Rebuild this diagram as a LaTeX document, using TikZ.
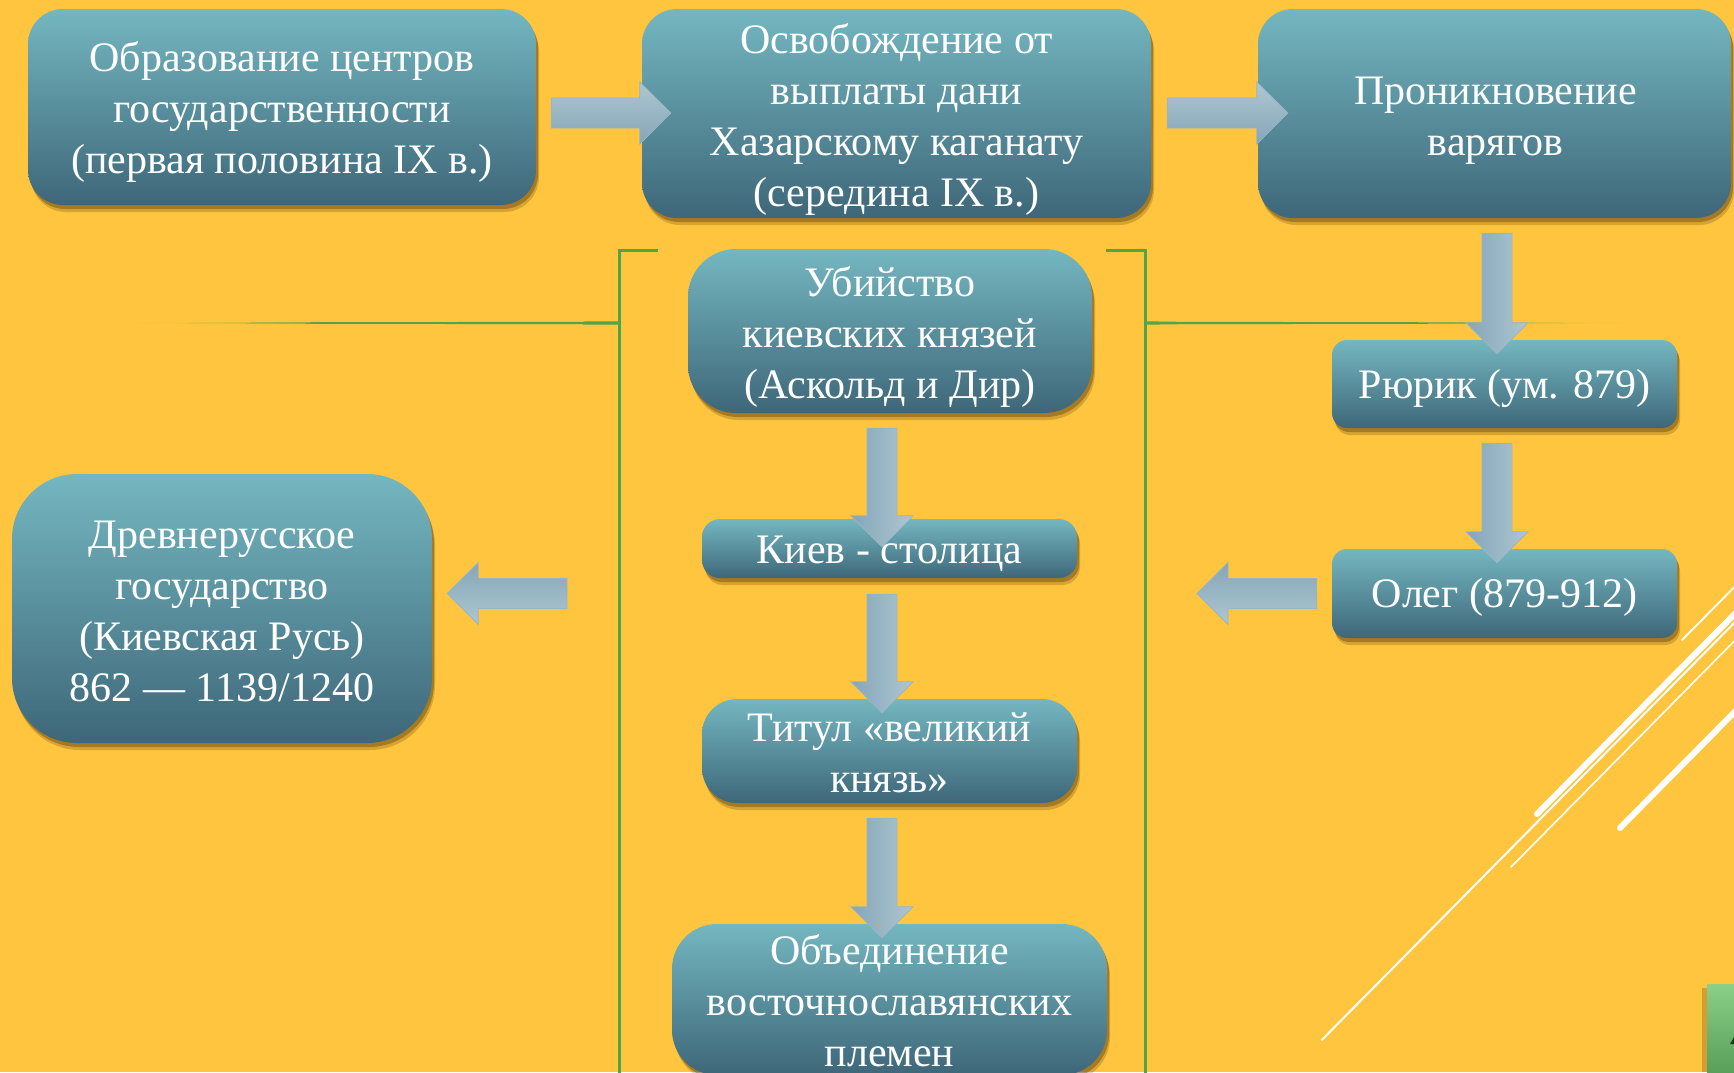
\documentclass[tikz,border=0pt]{standalone}
\usepackage{fontspec}
\setmainfont{Liberation Serif}
\usetikzlibrary{shadows,calc}
\definecolor{bgc}{RGB}{255,197,62}
\definecolor{boxtop}{RGB}{116,183,192}
\definecolor{boxbot}{RGB}{62,103,121}
\definecolor{arrdark}{RGB}{133,165,184}
\definecolor{arrlight}{RGB}{174,199,209}
\definecolor{arredge}{RGB}{150,182,196}
\definecolor{gline}{RGB}{78,166,74}
\definecolor{shadowc}{RGB}{80,50,5}
\definecolor{gboxtop}{RGB}{138,208,136}
\definecolor{gboxbot}{RGB}{86,154,86}
\tikzset{
  box/.style={draw=none, top color=boxtop, bottom color=boxbot, inner sep=0pt,
    drop shadow={shadow xshift=2pt, shadow yshift=-4pt, opacity=.36, fill=shadowc},
    drop shadow={shadow xshift=3pt, shadow yshift=-7pt, opacity=.22, fill=shadowc}},
  lbl/.style={text=white, align=center, font=\fontsize{42}{51}\selectfont, inner sep=0pt},
  bracket/.style={draw=gline, line width=3pt},
  wthick/.style={draw=white, line width=6pt, line cap=round},
  wthin/.style={draw=white, line width=2pt, line cap=round},
  arrR/.style={top color=arrlight, bottom color=arrdark, draw=arredge, line width=0.8pt},
  arrL/.style={top color=arrdark, bottom color=arrlight, draw=arredge, line width=0.8pt},
  arrD/.style={left color=arrdark, right color=arrlight, draw=arredge, line width=0.8pt},
}
\newcommand\blockarrow[3]{%
  \coordinate (baT) at #2;
  \coordinate (baB) at #3;
  \coordinate (baH) at ($(baB)!31pt!(baT)$);
  \draw[#1] ($(baT)!15pt!90:(baB)$) -- ($(baH)!15pt!-90:(baT)$) -- ($(baH)!31pt!-90:(baT)$)
    -- (baB) -- ($(baH)!31pt!90:(baT)$) -- ($(baH)!15pt!90:(baT)$) -- ($(baT)!15pt!-90:(baB)$) -- cycle;
}
\begin{document}
\begin{tikzpicture}[x=1pt,y=-1pt]
\useasboundingbox (0,0) rectangle (1734,1072);
\clip (0,0) rectangle (1734,1072);
\fill[bgc] (0,0) rectangle (1734,1072);

% decorative white lines
\draw[wthin] (1321.7,1040) -- ++(450,-455);
\draw[wthick] (1537,814) -- ++(250,-253);
\draw[wthin, line width=1.6pt] (1511,867) -- ++(250,-253);
\draw[wthick] (1620,828) -- ++(150,-152);
\draw[wthin, line width=1.8pt] (1682,640) -- ++(80,-81);

% green corner box
\fill[shadowc, opacity=.25] (1702,988) rectangle (1707,1072);
\shade[top color=gboxtop, bottom color=gboxbot] (1707,984) rectangle (1740,1080);
\fill[black!60!gboxbot] (1730,1044) -- (1734,1037) -- (1734,1044) -- cycle;

% green bracket and guide lines
\draw[bracket] (658,250) -- (619,250) -- (619,1080);
\draw[bracket] (1106,250) -- (1145,250) -- (1145,1080);
\shade[left color=bgc, right color=gline] (129,323) -- (320,322.2) -- (320,323.8) -- cycle;
\fill[gline] (320,322.2) -- (583,321.8) -- (583,321.5) -- (619,321.3) -- (619,324.7) -- (583,324.5) -- (583,324.2) -- (320,323.8) -- cycle;
\fill[gline] (1145,321.3) -- (1180,321.8) -- (1450,322.3) -- (1450,323.7) -- (1180,324.2) -- (1145,324.7) -- cycle;
\shade[left color=gline, right color=bgc] (1450,322.3) -- (1630,323) -- (1450,323.7) -- cycle;

% boxes
\node[box, minimum width=508pt, minimum height=196pt, rounded corners=35pt] (obr) at (282,107) {};
\node[box, minimum width=509pt, minimum height=209pt, rounded corners=35pt] (osv) at (896.5,113.5) {};
\node[box, minimum width=473pt, minimum height=209pt, rounded corners=35pt] (pron) at (1494.5,113.5) {};
\node[box, minimum width=404pt, minimum height=164pt, rounded corners=48pt] (ub) at (890,331) {};
\node[box, minimum width=375pt, minimum height=59pt, rounded corners=18pt] (kiev) at (889.5,548.5) {};
\node[box, minimum width=375pt, minimum height=104pt, rounded corners=35pt] (titul) at (889.5,751) {};
\node[box, minimum width=435pt, minimum height=151pt, rounded corners=45pt] (ob) at (889.5,999.5) {};
\node[box, minimum width=345pt, minimum height=88pt, rounded corners=15pt] (rur) at (1504.5,384) {};
\node[box, minimum width=345pt, minimum height=89pt, rounded corners=15pt] (oleg) at (1504.5,593.5) {};
\node[box, minimum width=420pt, minimum height=269pt, rounded corners=65pt] (drev) at (222,608.5) {};

% block arrows
\coordinate (a5tip) at (1197,593.5);
\coordinate (a6tail) at (567,593.5);
\blockarrow{arrR}{($(obr.east)+(15,6)$)}{($(osv.west)+(29,-0.5)$)}
\blockarrow{arrR}{($(osv.east)+(16,-0.5)$)}{($(pron.west)+(30,-0.5)$)}
\blockarrow{arrD}{($(pron.south)+(2.5,15)$)}{($(rur.north)+(-7.5,14)$)}
\blockarrow{arrD}{($(rur.south)+(-7.5,15)$)}{($(oleg.north)+(-7.5,14)$)}
\blockarrow{arrL}{($(oleg.west)+(-15,0)$)}{(a5tip)}
\blockarrow{arrL}{(a6tail)}{($(drev.east)+(15,-15)$)}
\blockarrow{arrD}{($(ub.south)+(-8,15)$)}{($(kiev.north)+(-7.5,28)$)}
\blockarrow{arrD}{($(kiev.south)+(-7.5,16)$)}{($(titul.north)+(-7.5,14)$)}
\blockarrow{arrD}{($(titul.south)+(-7.5,15)$)}{($(ob.north)+(-7.5,14)$)}

% labels
\node[lbl] (tobr) at ($(obr.center)+(0,4.5)$) {Образование центров\\государственности\\(первая половина IX в.)};
\node[lbl] (tosv) at ($(osv.center)+(0,6)$) {Освобождение от\\выплаты дани\\Хазарскому каганату\\(середина IX в.)};
\node[lbl] (tpron) at ($(pron.center)+(1,7.5)$) {Проникновение\\варягов};
\node[lbl] (tub) at ($(ub.center)+(0,6)$) {Убийство\\киевских князей\\(Аскольд и Дир)};
\node[lbl] (tkiev) at ($(kiev.center)+(0,5)$) {Киев - столица};
\node[lbl] (ttitul) at ($(titul.center)+(0,2)$) {Титул «великий\\князь»};
\node[lbl] (tob) at ($(ob.center)+(0,1)$) {Объединение\\восточнославянских\\племен};
\node[lbl] (trur) at ($(rur.center)+(0,4)$) {Рюрик (ум. 879)};
\node[lbl] (toleg) at ($(oleg.center)+(0,4)$) {Олег (879-912)};
\node[lbl] (tdrev) at ($(drev.center)+(0,3)$) {Древнерусское\\государство\\(Киевская Русь)\\862 — 1139/1240};
\end{tikzpicture}
\end{document}
